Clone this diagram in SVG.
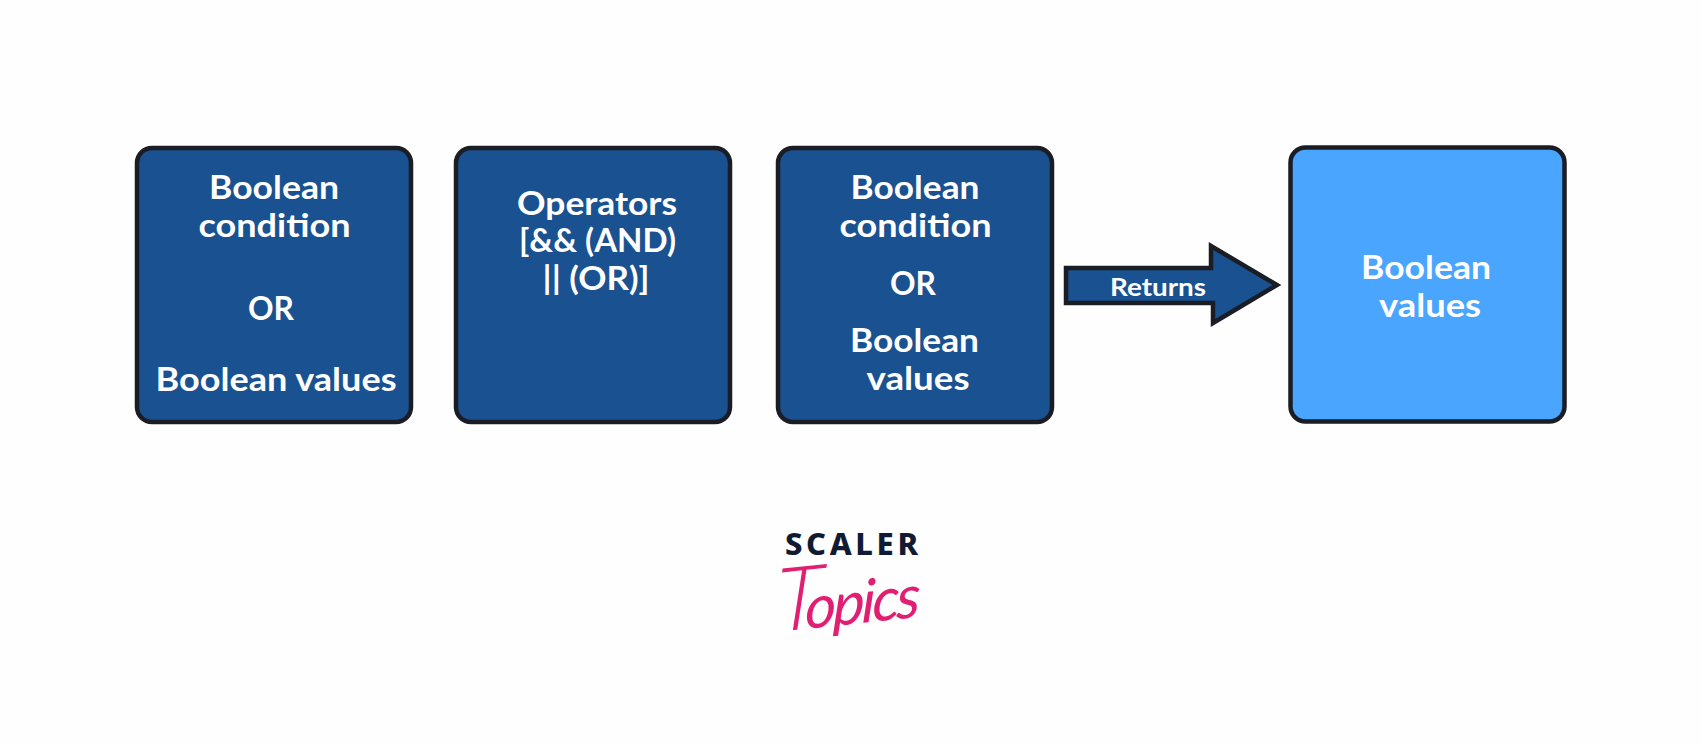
<svg xmlns="http://www.w3.org/2000/svg" width="1701" height="744" viewBox="0 0 1701 744">
<style>
.box{stroke:#1a1d24;stroke-width:4.500}
.dark{fill:#1a5190}
.light{fill:#4aa5ff}
text{font-family:"Lato","Noto Sans","Liberation Sans",sans-serif;font-weight:700;fill:#fff;text-anchor:middle;font-size:32px}
.small{font-size:24px}
.scaler{font-family:"Noto Sans","Liberation Sans",sans-serif;font-weight:800;fill:#111a33;font-size:31px}
.topics{font-family:"Lato",sans-serif;font-style:italic;font-weight:300;fill:#e21e72;font-size:88px;text-anchor:start}
.rest{font-size:60px;letter-spacing:-3px;font-weight:400}
</style>
<rect width="1701" height="744" fill="#fefefe"/>
<g id="node-1">
<rect class="box dark" x="137" y="148" width="274" height="274" rx="15"/>
<text x="274" y="199" textLength="130" lengthAdjust="spacingAndGlyphs">Boolean</text>
<text x="274.500" y="237" textLength="152" lengthAdjust="spacingAndGlyphs">condition</text>
<text x="271" y="320" textLength="46" lengthAdjust="spacingAndGlyphs">OR</text>
<text x="276" y="391" textLength="241" lengthAdjust="spacingAndGlyphs">Boolean values</text>
</g>
<g id="node-2">
<rect class="box dark" x="456" y="148" width="274" height="274" rx="15"/>
<text x="597" y="215" textLength="160" lengthAdjust="spacingAndGlyphs">Operators</text>
<text x="597.500" y="252" textLength="157" lengthAdjust="spacingAndGlyphs">[&amp;&amp; (AND)</text>
<text x="596" y="290" textLength="107" lengthAdjust="spacingAndGlyphs">|| (OR)]</text>
</g>
<g id="node-3">
<rect class="box dark" x="778" y="148" width="274" height="274" rx="15"/>
<text x="915" y="199" textLength="129" lengthAdjust="spacingAndGlyphs">Boolean</text>
<text x="915.500" y="237" textLength="152" lengthAdjust="spacingAndGlyphs">condition</text>
<text x="913" y="295" textLength="46" lengthAdjust="spacingAndGlyphs">OR</text>
<text x="914.500" y="352" textLength="129" lengthAdjust="spacingAndGlyphs">Boolean</text>
<text x="918" y="390" textLength="103" lengthAdjust="spacingAndGlyphs">values</text>
</g>
<g id="node-4">
<rect class="box light" x="1290.500" y="147.500" width="274" height="274" rx="15"/>
<text x="1426" y="279" textLength="130" lengthAdjust="spacingAndGlyphs">Boolean</text>
<text x="1430" y="317" textLength="102" lengthAdjust="spacingAndGlyphs">values</text>
</g>
<g id="connectors">
<path class="box dark" d="M1066 268H1211V246L1277 285L1213 323V303H1066Z"/>
<text class="small" x="1158" y="296" textLength="96" lengthAdjust="spacingAndGlyphs">Returns</text>
</g>
<g id="logo">
<text class="scaler" x="851.500" y="555" textLength="133" lengthAdjust="spacing">SCALER</text>
<text class="topics" transform="translate(775 632) rotate(-6) skewX(-8)">T<tspan class="rest" dx="-17">opics</tspan></text>
</g>
</svg>
